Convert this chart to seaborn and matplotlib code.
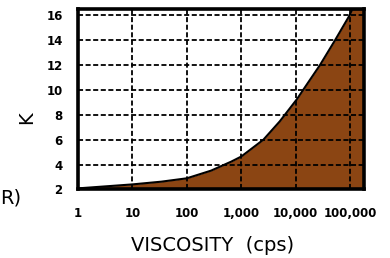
import matplotlib
matplotlib.use("Agg")
import matplotlib.pyplot as plt
import matplotlib.ticker as mticker
import seaborn as sns

# Data
viscosity = [1, 10, 34, 100, 280, 660, 1000, 2560, 5130, 10500, 17000,
             28000, 53000, 98000, 110000, 180000]
k_values = [2.08, 2.4, 2.62, 2.89, 3.51, 4.24, 4.64, 6.0, 7.48, 9.24, 10.6,
            12.0, 14.0, 16.0, 16.5, 16.5]
x_ticks = [1, 10, 100, 1000, 10000, 100000]
x_tick_labels = ["1", "10", "100", "1,000", "10,000", "100,000"]
y_ticks = [2, 4, 6, 8, 10, 12, 14, 16]

sns.set_style("white")
plt.rcParams['font.family'] = ['DejaVu Sans']
plt.rcParams['text.color'] = 'black'
plt.rcParams['axes.labelcolor'] = 'black'
plt.rcParams['xtick.color'] = 'black'
plt.rcParams['ytick.color'] = 'black'

fig = plt.figure(figsize=(3.9, 2.58), dpi=100)
ax = fig.add_axes([0.2, 0.266, 0.733, 0.698])

ax.fill_between(viscosity, 2, k_values, color="#8B4513", linewidth=0, zorder=1)
sns.lineplot(x=viscosity, y=k_values, color="black", linewidth=1.5, ax=ax, zorder=3)

ax.set_xscale("log")
ax.set_xlim(1, 180000)
ax.set_ylim(2, 16.5)
ax.set_xticks(x_ticks)
ax.set_xticklabels(x_tick_labels)
ax.xaxis.set_minor_locator(mticker.NullLocator())
ax.set_yticks(y_ticks)

ax.grid(True, which="major", color="black", linestyle=(0, (2.8, 1.4)), linewidth=1.3, zorder=2)
ax.set_axisbelow(False)
for sp in ax.spines.values():
    sp.set_visible(True)
    sp.set_color("black")
    sp.set_linewidth(2.6)
    sp.set_zorder(4)

ax.tick_params(axis="both", direction="out", length=8, width=1.4, color="black",
               labelcolor="black", labelsize=8.5, pad=3)
ax.tick_params(axis="x", pad=5)
for lab in ax.get_xticklabels() + ax.get_yticklabels():
    lab.set_fontweight("bold")

ax.set_xlabel("VISCOSITY  (cps)", fontsize=14, color="black")
ax.xaxis.set_label_coords(0.472, -0.31)
ax.xaxis.label.set_va("center")
ax.set_ylabel("K", fontsize=14, color="black")
ax.yaxis.set_label_coords(-0.18, 0.40)
ax.yaxis.label.set_va("center")

fig.text(0.0, 0.233, "R)", fontsize=14, ha="left", va="center", color="black")

fig.savefig("out.png", dpi=100)
